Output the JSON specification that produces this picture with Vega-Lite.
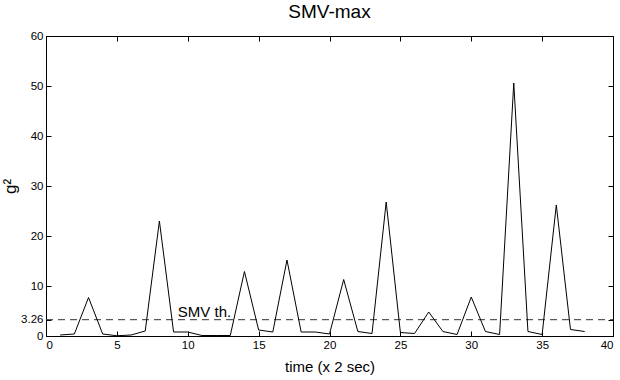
{
  "$schema": "https://vega.github.io/schema/vega-lite/v6.json",
  "width": 567,
  "height": 300,
  "autosize": {"type": "none"},
  "padding": {"left": 46, "top": 36, "right": 7, "bottom": 44},
  "background": "white",
  "config": {
    "font": "Liberation Sans",
    "view": {"stroke": "black", "strokeWidth": 1},
    "axis": {"domainColor": "black", "tickColor": "black", "labelColor": "black", "titleColor": "black", "labelFontSize": 11.5, "titleFontSize": 15, "titleFontWeight": "normal", "grid": false, "tickSize": -5}
  },
  "title": {"text": "SMV-max", "fontSize": 19, "fontWeight": "normal", "font": "Liberation Sans", "color": "black", "offset": 8},
  "datasets": {
    "smv": [
      {"t": 1, "v": 0.2}, {"t": 2, "v": 0.4}, {"t": 3, "v": 7.7}, {"t": 4, "v": 0.4},
      {"t": 5, "v": 0.05}, {"t": 6, "v": 0.2}, {"t": 7, "v": 1.0}, {"t": 8, "v": 23.0},
      {"t": 9, "v": 0.8}, {"t": 10, "v": 0.8}, {"t": 11, "v": 0.1}, {"t": 12, "v": 0.1},
      {"t": 13, "v": 0.1}, {"t": 14, "v": 12.9}, {"t": 15, "v": 1.2}, {"t": 16, "v": 0.8},
      {"t": 17, "v": 15.2}, {"t": 18, "v": 0.8}, {"t": 19, "v": 0.8}, {"t": 20, "v": 0.4},
      {"t": 21, "v": 11.3}, {"t": 22, "v": 0.9}, {"t": 23, "v": 0.5}, {"t": 24, "v": 26.8},
      {"t": 25, "v": 0.7}, {"t": 26, "v": 0.5}, {"t": 27, "v": 4.8}, {"t": 28, "v": 0.9},
      {"t": 29, "v": 0.3}, {"t": 30, "v": 7.8}, {"t": 31, "v": 0.9}, {"t": 32, "v": 0.3},
      {"t": 33, "v": 50.6}, {"t": 34, "v": 0.9}, {"t": 35, "v": 0.3}, {"t": 36, "v": 26.2},
      {"t": 37, "v": 1.3}, {"t": 38, "v": 0.9}
    ],
    "th": [{"x0": 0, "x1": 40, "y": 3.26, "label": "SMV th.", "lx": 9.3}]
  },
  "layer": [
    {
      "layer": [
        {
          "data": {"name": "th"},
          "mark": {"type": "rule", "color": "#333", "strokeWidth": 1, "strokeDash": [7, 5]},
          "encoding": {
            "x": {"field": "x0", "type": "quantitative", "scale": {"domain": [0, 40], "nice": false}, "axis": {"values": [0,5,10,15,20,25,30,35,40], "title": "time (x 2 sec)", "titlePadding": 9, "labelPadding": 8}},
            "x2": {"field": "x1"},
            "y": {"field": "y", "type": "quantitative", "scale": {"domain": [0, 60], "nice": false}, "axis": {"values": [0, 3.26, 10, 20, 30, 40, 50, 60], "format": ".2~f", "title": "g²", "titleFontSize": 17, "titlePadding": 1, "labelPadding": 8}}
          }
        },
        {
          "data": {"name": "th"},
          "mark": {"type": "text", "align": "left", "baseline": "bottom", "fontSize": 15, "color": "black"},
          "encoding": {
            "x": {"field": "lx", "type": "quantitative"},
            "y": {"field": "y", "type": "quantitative"},
            "text": {"field": "label"}
          }
        },
        {
          "data": {"name": "smv"},
          "mark": {"type": "line", "color": "black", "strokeWidth": 1},
          "encoding": {
            "x": {"field": "t", "type": "quantitative"},
            "y": {"field": "v", "type": "quantitative"}
          }
        }
      ]
    },
    {
      "data": {"name": "smv"},
      "mark": {"type": "line", "opacity": 0},
      "encoding": {
        "x": {"field": "t", "type": "quantitative", "axis": {"orient": "top", "values": [0,5,10,15,20,25,30,35,40], "labels": false, "title": null, "domain": false}},
        "y": {"field": "v", "type": "quantitative", "axis": {"orient": "right", "values": [0, 3.26, 10, 20, 30, 40, 50, 60], "labels": false, "title": null, "domain": false}}
      }
    }
  ],
  "resolve": {"axis": {"x": "independent", "y": "independent"}}
}
